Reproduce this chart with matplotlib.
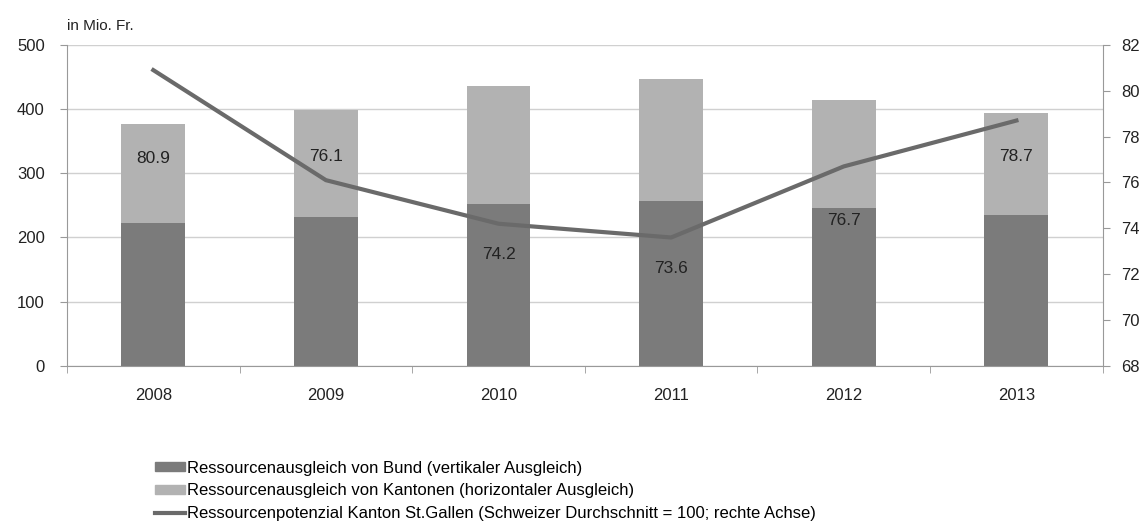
import matplotlib
matplotlib.use("Agg")
import matplotlib.pyplot as plt
import numpy as np
from matplotlib.patches import Patch
from matplotlib.lines import Line2D

plt.rcParams['font.family'] = ['Liberation Sans', 'DejaVu Sans']

years = ['2008', '2009', '2010', '2011', '2012', '2013']
bund = [223, 232, 252, 257, 246, 235]            # vertikaler Ausgleich
kantone = [154, 167, 184, 190, 168, 159]         # horizontaler Ausgleich
potenzial = [80.9, 76.1, 74.2, 73.6, 76.7, 78.7]  # rechte Achse
# label offsets (points) relative to line point
label_dy = [-64, 17, -22, -22, -39, -26]

dark = '#7b7b7b'
light = '#b2b2b2'
linec = '#6a6a6a'

fig = plt.figure(figsize=(11.47, 5.28), dpi=100)
ax = fig.add_axes([0.0584, 0.307, 0.903, 0.608])
x = np.arange(len(years))
ax.bar(x, bund, width=0.37, color=dark, zorder=2)
ax.bar(x, kantone, width=0.37, bottom=bund, color=light, zorder=2)
ax.set_xlim(-0.5, len(years) - 0.5)
ax.set_ylim(0, 500)
ax.set_yticks(range(0, 501, 100))
ax.yaxis.grid(True, color='#d0d0d0', lw=1, zorder=0)
ax.set_xticks(x)
ax.set_xticklabels(years)
ax.set_xticks(np.arange(-0.5, len(years)), minor=True)
ax.tick_params(axis='x', which='major', length=0, pad=16)
ax.tick_params(axis='x', which='minor', length=5, color='#999999')
ax.tick_params(axis='y', length=5, color='#999999', pad=11)
ax.tick_params(labelsize=12, labelcolor='#222222')
for s in ['top', 'right']:
    ax.spines[s].set_visible(False)
for s in ['left', 'bottom']:
    ax.spines[s].set_color('#999999')
ax.text(0.0, 1.045, 'in Mio. Fr.', transform=ax.transAxes, fontsize=11, color='#222222')

ax2 = ax.twinx()
ax2.plot(x, potenzial, color=linec, lw=3, zorder=3)
ax2.set_ylim(68, 82)
ax2.set_yticks(range(68, 83, 2))
ax2.tick_params(axis='y', length=5, color='#999999', labelsize=12, labelcolor='#222222', pad=8)
for s in ['top', 'left', 'bottom']:
    ax2.spines[s].set_visible(False)
ax2.spines['right'].set_color('#999999')
for xi, v, dy in zip(x, potenzial, label_dy):
    ax2.annotate(f'{v:.1f}', (xi, v), xytext=(0, dy), textcoords='offset points',
                 ha='center', va='center', fontsize=12.5, color='#222222')

handles = [Patch(color=dark), Patch(color=light), Line2D([], [], color=linec, lw=3)]
labels = ['Ressourcenausgleich von Bund (vertikaler Ausgleich)',
          'Ressourcenausgleich von Kantonen (horizontaler Ausgleich)',
          'Ressourcenpotenzial Kanton St.Gallen (Schweizer Durchschnitt = 100; rechte Achse)']
fig.legend(handles, labels, loc='upper left', bbox_to_anchor=(0.129, 0.14), frameon=False,
           fontsize=12, handlelength=1.8, handleheight=0.45, handletextpad=0.15,
           labelspacing=0.45, borderaxespad=0)

fig.savefig('out.png', dpi=100)
